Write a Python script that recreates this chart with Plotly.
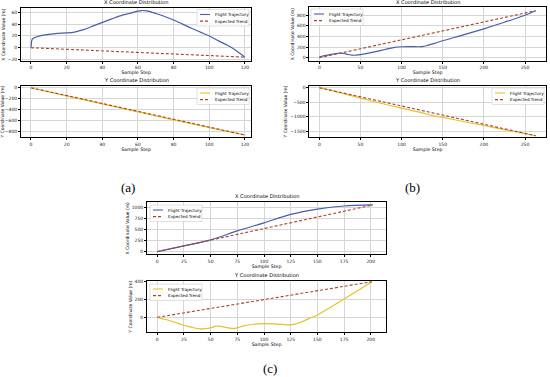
import plotly.graph_objects as go

# ---------------- data ----------------
# (a) X
a_x_steps = [0, 0.7, 2, 5, 10, 15, 20, 25, 30, 35, 40, 45, 50, 55, 60, 62, 65, 70, 75, 80, 85, 90, 95, 100, 105, 110, 115, 120]
a_x_vals = [0, 14.5, 17, 20, 22.7, 24.3, 25, 27, 31, 37, 43, 48.5, 54, 58, 62, 63, 62.3, 58, 53, 47, 40, 33, 26.5, 20, 12, 4.5, -4.5, -16]
a_x_trend_steps = [0, 120]
a_x_trend_vals = [0, -16]
# (a) Y
a_y_steps = [0, 20, 40, 60, 80, 100, 120]
a_y_vals = [-5, -150, -295, -440, -585, -725, -860]
a_y_trend_steps = [0, 120]
a_y_trend_vals = [0, -860]
# (b) X
b_x_steps = [0, 5, 10, 15, 20, 25, 30, 35, 40, 45, 50, 60, 70, 80, 90, 100, 110, 120, 125, 130, 140, 150, 175, 200, 225, 250, 263]
b_x_vals = [15, 35, 50, 65, 80, 88, 80, 60, 47, 48, 58, 85, 120, 155, 190, 207, 210, 207, 210, 225, 270, 320, 430, 545, 670, 800, 885]
b_x_trend_steps = [0, 263]
b_x_trend_vals = [0, 887]
# (b) Y
b_y_steps = [0, 25, 50, 75, 100, 125, 140, 150, 175, 200, 225, 250, 263]
b_y_vals = [0, -170, -360, -540, -710, -870, -980, -1030, -1170, -1310, -1450, -1590, -1665]
b_y_trend_steps = [0, 263]
b_y_trend_vals = [0, -1665]
# (c) X
c_x_steps = [0, 25, 50, 75, 100, 125, 150, 175, 202]
c_x_vals = [0, 130, 265, 470, 650, 840, 960, 1030, 1053]
c_x_trend_steps = [0, 202]
c_x_trend_vals = [0, 1053]
# (c) Y
c_y_steps = [0, 8, 15, 22, 28, 35, 40, 45, 50, 55, 58, 63, 70, 75, 80, 90, 100, 112, 125, 132, 137, 143, 150, 162, 175, 188, 201]
c_y_vals = [0, -25, -50, -78, -100, -120, -130, -128, -118, -100, -98, -110, -124, -118, -100, -78, -72, -76, -84, -65, -42, -10, 25, 110, 207, 300, 400]
c_y_trend_steps = [0, 201]
c_y_trend_vals = [0, 400]

titles = ["X Coordinate Distribution", "Y Coordinate Distribution"]
series_names = ["Flight Trajectory", "Expected Trend"]
panel_labels = ["(a)", "(b)", "(c)"]

W, H = 550, 377
BLUE = "#4a5dab"
GOLD = "#e5c12a"
TREND = "#a8432a"
FONT = "DejaVu Sans"

def px(x):
    return x / W

def py(y):
    return 1 - y / H

LEG_W, LEG_H = 52, 16.5

panels = [
    (a_x_steps, a_x_vals, a_x_trend_steps, a_x_trend_vals, BLUE, titles[0], "X Coordinate Value (m)",
     (21, 251), (8.3, 61), [-5.6, 123.4], [-22.5, 66.8], 20, 20, (197, 9.5)),
    (a_y_steps, a_y_vals, a_y_trend_steps, a_y_trend_vals, GOLD, titles[1], "Y Coordinate Value (m)",
     (21, 251), (86, 137.3), [-5.6, 123.4], [-902, 31], 20, 200, (197, 88)),
    (b_x_steps, b_x_vals, b_x_trend_steps, b_x_trend_vals, BLUE, titles[0], "X Coordinate Value (m)",
     (309.3, 546), (7.3, 61), [-12.2, 275.5], [-62, 951], 50, 200, (311, 9)),
    (b_y_steps, b_y_vals, b_y_trend_steps, b_y_trend_vals, GOLD, titles[1], "Y Coordinate Value (m)",
     (309.3, 546), (85.7, 137.3), [-12.2, 275.5], [-1718, 69], 50, 500, (492, 88)),
    (c_x_steps, c_x_vals, c_x_trend_steps, c_x_trend_vals, BLUE, titles[0], "X Coordinate Value (m)",
     (147, 386), (202.3, 254.3), [-9.65, 214.3], [-58.6, 1113], 25, 250, (150, 205)),
    (c_y_steps, c_y_vals, c_y_trend_steps, c_y_trend_vals, GOLD, titles[1], "Y Coordinate Value (m)",
     (147, 386), (281, 332.3), [-9.65, 214.3], [-168.5, 408], 25, 200, (150, 284)),
]

fig = go.Figure()
layout = dict(
    width=W, height=H, margin=dict(l=0, r=0, t=0, b=0, autoexpand=False),
    paper_bgcolor="white", plot_bgcolor="white",
    font=dict(family=FONT, size=4.5, color="black"),
    annotations=[], shapes=[], showlegend=False,
)

for i, (st, vals, tst, tvals, col, title, ylabel, xd, yd, xr, yr, xdt, ydt, lg) in enumerate(panels):
    n = i + 1
    xa = "x" if n == 1 else f"x{n}"
    ya = "y" if n == 1 else f"y{n}"
    fig.add_trace(go.Scatter(x=st, y=vals, mode="lines", name=series_names[0],
                             line=dict(color=col, width=1.2, shape="spline", smoothing=0.7),
                             xaxis=xa, yaxis=ya))
    fig.add_trace(go.Scatter(x=tst, y=tvals, mode="lines", name=series_names[1],
                             line=dict(color=TREND, width=1.1, dash="3px,2px"),
                             xaxis=xa, yaxis=ya))
    xkey = "xaxis" if n == 1 else f"xaxis{n}"
    ykey = "yaxis" if n == 1 else f"yaxis{n}"
    common = dict(showline=True, mirror=True, linecolor="black", linewidth=0.8,
                  showgrid=True, gridcolor="#d6d6d6", gridwidth=0.6, zeroline=False,
                  ticks="outside", ticklen=2, tickwidth=0.6, tickcolor="black", automargin=False,
                  tickfont=dict(size=4.5, family=FONT, color="#222"))
    layout[xkey] = dict(domain=[px(xd[0]), px(xd[1])], anchor=ya, range=xr, dtick=xdt, tick0=0,
                        title=dict(text="Sample Step", font=dict(size=4.7, family=FONT), standoff=1),
                        **common)
    layout[ykey] = dict(domain=[py(yd[1]), py(yd[0])], anchor=xa, range=yr, dtick=ydt, tick0=0,
                        title=dict(text=ylabel, font=dict(size=4.5, family=FONT), standoff=2),
                        **common)
    layout["annotations"].append(dict(
        text=title, x=px((xd[0] + xd[1]) / 2), y=py(yd[0] - 0.8), xref="paper", yref="paper",
        xanchor="center", yanchor="bottom", showarrow=False, font=dict(size=5.1, family=FONT)))
    # manual legend box
    lx, ly = lg
    layout["shapes"].append(dict(type="rect", xref="paper", yref="paper", layer="above",
                                 x0=px(lx), x1=px(lx + LEG_W), y0=py(ly + LEG_H), y1=py(ly),
                                 fillcolor="rgba(255,255,255,0.85)", line=dict(color="#cfcfcf", width=0.6)))
    for k, (name, c, dash) in enumerate([(series_names[0], col, "solid"), (series_names[1], TREND, "3px,2px")]):
        yy = ly + 5 + k * 6.6
        layout["shapes"].append(dict(type="line", xref="paper", yref="paper", layer="above",
                                     x0=px(lx + 3), x1=px(lx + 13), y0=py(yy), y1=py(yy),
                                     line=dict(color=c, width=1.1, dash=dash)))
        layout["annotations"].append(dict(text=name, x=px(lx + 15.5), y=py(yy), xref="paper", yref="paper",
                                          xanchor="left", yanchor="middle", showarrow=False,
                                          font=dict(size=4.2, family=FONT)))

for lab, x, y in [(panel_labels[0], 128, 188), (panel_labels[1], 412, 188), (panel_labels[2], 270, 368)]:
    layout["annotations"].append(dict(
        text=lab, x=px(x), y=py(y), xref="paper", yref="paper", xanchor="center", yanchor="middle",
        showarrow=False, font=dict(size=13, family="Liberation Serif", color="black")))

fig.update_layout(**layout)
fig.write_html("out.html", config={"displayModeBar": False},
               post_script="document.body.style.margin='0';")
